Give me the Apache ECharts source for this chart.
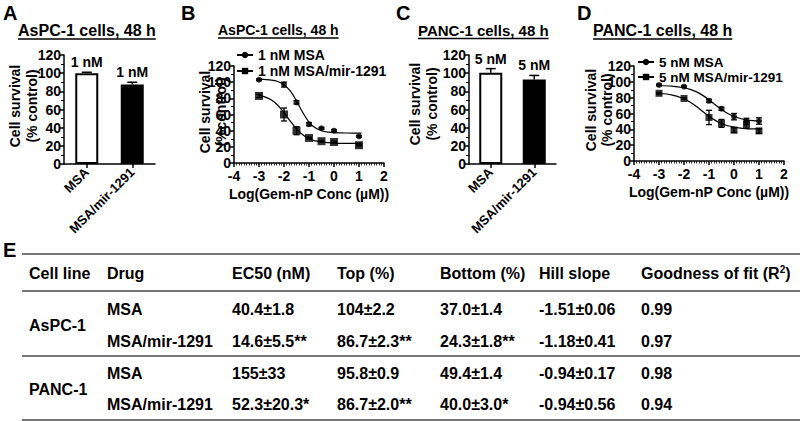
<!DOCTYPE html>
<html><head><meta charset="utf-8">
<script src="https://cdn.jsdelivr.net/npm/echarts@6/dist/echarts.min.js"></script>
<style>html,body{margin:0;padding:0;background:#fff}#c{width:800px;height:421px}</style>
</head><body><div id="c"></div>
<script>
const FONT = '"Liberation Sans", Arial, sans-serif';

// ---------- data ----------
const barCats = ['MSA', 'MSA/mir-1291'];
const aBarValues = [100, 87.5];
const aBarErrors = [1, 2.5];
const aBarLabels = ['1 nM', '1 nM'];
const cBarValues = [100.5, 93];
const cBarErrors = [4.5, 4.5];
const cBarLabels = ['5 nM', '5 nM'];

const bDoseLog = [-3, -2, -1.5, -1, -0.5, 0, 1];
const bMsaMean = [103, 97, 75, 48, 43, 40, 33];
const bMsaErr  = [1, 3, 2, 2, 1, 1, 1];
const bMirMean = [83, 60, 40, 31, 27, 26, 22];
const bMirErr  = [2, 8, 5, 1, 1, 1, 1];
const bCurveX   = [-3, -2.5, -2.25, -2, -1.75, -1.5, -1.25, -1, -0.75, -0.5, -0.25, 0, 0.5, 1.1];
const bMsaCurve = [103.8, 102.6, 100.8, 96.8, 89.1, 76.8, 62.5, 50.7, 43.5, 39.9, 38.2, 37.5, 37.1, 37.0];
const bMirCurve = [84.2, 77.9, 71.4, 62.3, 51.9, 42.2, 34.9, 30.1, 27.4, 25.9, 25.1, 24.7, 24.4, 24.3];

const dDoseLog = [-3, -2, -1, -0.5, 0, 0.5, 1];
const dMsaMean = [96, 94, 76, 66, 56, 50, 50.5];
const dMsaErr  = [1, 1, 2, 2, 4, 4, 4];
const dMirMean = [85.5, 79, 55, 47.5, 39, 46, 38];
const dMirErr  = [1, 1, 9, 5, 3, 5, 3];
const dCurveX   = [-3, -2.5, -2, -1.75, -1.5, -1.25, -1, -0.75, -0.5, -0.25, 0, 0.25, 0.5, 0.75, 1.1];
const dMsaCurve = [95.4, 94.6, 92.5, 90.4, 87.3, 82.9, 77.3, 71.1, 65.1, 60.0, 56.3, 53.7, 52.0, 50.9, 50.1];
const dMirCurve = [85.6, 83.6, 78.6, 74.3, 68.8, 62.6, 56.5, 51.3, 47.3, 44.5, 42.8, 41.6, 41.0, 40.6, 40.3];

const bLegend = ['1 nM MSA', '1 nM MSA/mir-1291'];
const dLegend = ['5 nM MSA', '5 nM MSA/mir-1291'];
const panelTitles = ['AsPC-1 cells, 48 h', 'AsPC-1 cells, 48 h', 'PANC-1 cells, 48 h', 'PANC-1 cells, 48 h'];
const panelLetters = ['A', 'B', 'C', 'D', 'E'];
const yNameLines = [['Cell survival', '(% control)'], ['Cell survival', '(%control)'], ['Cell survival', '(% control)'], ['Cell survival', '(% control)']];
const xNameCurve = 'Log(Gem-nP Conc (\u00b5M))';

const tableHeaders = ['Cell line', 'Drug', 'EC50 (nM)', 'Top (%)', 'Bottom (%)', 'Hill slope', 'Goodness of fit (R{sup|2})'];
const cellLines = ['AsPC-1', 'PANC-1'];
const drugs = ['MSA', 'MSA/mir-1291', 'MSA', 'MSA/mir-1291'];
const ec50 = ['40.4\u00b11.8', '14.6\u00b15.5**', '155\u00b133', '52.3\u00b120.3*'];
const topPct = ['104\u00b12.2', '86.7\u00b12.3**', '95.8\u00b10.9', '86.7\u00b12.0**'];
const bottomPct = ['37.0\u00b11.4', '24.3\u00b11.8**', '49.4\u00b11.4', '40.0\u00b13.0*'];
const hillSlope = ['-1.51\u00b10.06', '-1.18\u00b10.41', '-0.94\u00b10.17', '-0.94\u00b10.56'];
const goodness = ['0.99', '0.97', '0.98', '0.94'];

// ---------- helpers ----------
const BLACK = '#000';
const measure = (() => { const c = document.createElement('canvas').getContext('2d'); return (t, f) => { c.font = f; return c.measureText(t).width; }; })();
const axLine = { show: true, onZero: false, lineStyle: { color: BLACK, width: 1.5 } };
const axTick = { show: true, length: 4, lineStyle: { color: BLACK, width: 1.5 } };
const axLbl = { color: BLACK, fontWeight: 'bold', fontSize: 14, fontFamily: FONT, margin: 3, lineHeight: 12 };

function barYAxis(gi) {
  return { type: 'value', gridIndex: gi, min: 0, max: 120, interval: 20, axisLine: axLine, axisTick: axTick,
    minorTick: { show: true, splitNumber: 2, length: 3, lineStyle: { color: BLACK, width: 1 } },
    splitLine: { show: false }, axisLabel: axLbl };
}
function barXAxis(gi) {
  return { type: 'category', gridIndex: gi, data: barCats, axisLine: axLine,
    axisTick: { show: true, alignWithLabel: true, length: 4, lineStyle: { color: BLACK, width: 1.5 } },
    axisLabel: Object.assign({}, axLbl, { fontSize: 13, rotate: 45, interval: 0, margin: 6 }) };
}
function curveXAxis(gi) {
  return { type: 'value', gridIndex: gi, min: -4, max: 2, interval: 1, axisLine: axLine, axisTick: axTick,
    minorTick: { show: true, splitNumber: 10, length: 2.5, lineStyle: { color: BLACK, width: 0.8 } },
    splitLine: { show: false }, axisLabel: Object.assign({}, axLbl, { margin: 7 }),
    name: xNameCurve, nameLocation: 'middle', nameGap: 24,
    nameTextStyle: { color: BLACK, fontWeight: 'bold', fontSize: 14, fontFamily: FONT } };
}
function curveYAxis(gi) { return barYAxis(gi); }

function barErrRender(labels) {
  return function (params, api) {
    const i = api.value(0), v = api.value(1), e = api.value(2);
    const p0 = api.coord([i, v]), p1 = api.coord([i, v + e]);
    const st = { stroke: BLACK, lineWidth: 1.5 };
    return { type: 'group', children: [
      { type: 'line', shape: { x1: p0[0], y1: p0[1], x2: p1[0], y2: p1[1] }, style: st },
      { type: 'line', shape: { x1: p1[0] - 5, y1: p1[1], x2: p1[0] + 5, y2: p1[1] }, style: st },
      { type: 'text', x: p1[0], y: p1[1] - 3, style: { text: labels[params.dataIndex], align: 'center', verticalAlign: 'bottom',
        fontSize: 14, fontWeight: 'bold', fontFamily: FONT, fill: BLACK } }
    ] };
  };
}
function errRender(params, api) {
  const x = api.value(0), y = api.value(1), e = api.value(2);
  const pt = api.coord([x, y + e]), pb = api.coord([x, y - e]);
  const st = { stroke: BLACK, lineWidth: 1.3 };
  return { type: 'group', children: [
    { type: 'line', shape: { x1: pt[0], y1: pt[1], x2: pb[0], y2: pb[1] }, style: st },
    { type: 'line', shape: { x1: pt[0] - 3, y1: pt[1], x2: pt[0] + 3, y2: pt[1] }, style: st },
    { type: 'line', shape: { x1: pb[0] - 3, y1: pb[1], x2: pb[0] + 3, y2: pb[1] }, style: st }
  ] };
}
const zip = (xs, ys) => xs.map((x, i) => [x, ys[i]]);
const zip3 = (xs, ys, es) => xs.map((x, i) => [x, ys[i], es[i]]);

function curveSeries(gi, name, cx, cy, px, py, pe, sym, symSize) {
  return [
    { type: 'line', name: name, xAxisIndex: gi, yAxisIndex: gi, data: zip(cx, cy), smooth: 0.3, showSymbol: false,
      symbol: sym, symbolSize: symSize, lineStyle: { color: BLACK, width: 1.2 }, itemStyle: { color: BLACK }, silent: true, z: 2 },
    { type: 'custom', xAxisIndex: gi, yAxisIndex: gi, data: zip3(px, py, pe), renderItem: errRender, z: 3, silent: true },
    { type: 'scatter', xAxisIndex: gi, yAxisIndex: gi, data: zip(px, py), symbol: sym, symbolSize: symSize,
      itemStyle: { color: BLACK }, z: 4, silent: true }
  ];
}
function barSeries(gi, vals, errs, labels) {
  return [
    { type: 'bar', xAxisIndex: gi, yAxisIndex: gi, barWidth: 23, silent: true,
      data: vals.map((v, i) => ({ value: v, itemStyle: i === 0 ? { color: '#fff', borderColor: BLACK, borderWidth: 2 } : { color: BLACK, borderColor: BLACK, borderWidth: 2 } })) },
    { type: 'custom', xAxisIndex: gi, yAxisIndex: gi, data: vals.map((v, i) => [i, v, errs[i]]), renderItem: barErrRender(labels), z: 5, silent: true }
  ];
}

// ---------- graphics ----------
const graphics = [];
function txt(x, y, text, size, opts) {
  graphics.push(Object.assign({ type: 'text', x: x, y: y, silent: true,
    style: Object.assign({ text: text, fontSize: size, fontWeight: 'bold', fontFamily: FONT, fill: BLACK, align: 'left', verticalAlign: 'middle' }, (opts && opts.style) || {}) },
    (opts && opts.el) || {}));
}
function hline(x1, x2, y, color, w) {
  graphics.push({ type: 'line', silent: true, shape: { x1: x1, y1: y, x2: x2, y2: y }, style: { stroke: color, lineWidth: w } });
}
// panel letters
const letterPos = [[3, 13], [181, 13], [396, 13], [577, 13], [3, 250]];
panelLetters.forEach((l, i) => txt(letterPos[i][0], letterPos[i][1], l, 20));
// titles with underline
const titleSpec = [[18, 30, 16], [218, 30, 14], [418, 30, 15], [593, 30, 16]];
panelTitles.forEach((t, i) => {
  const [x, y, s] = titleSpec[i];
  txt(x, y, t, s);
  const w = measure(t, 'bold ' + s + 'px "Liberation Sans"');
  hline(x, x + w, y + s * 0.5 + 1, BLACK, 1.3);
});
// rotated y-axis names
const yNamePos = [[15, 32, 106], [205, 221, 112], [415, 432, 104], [591, 607, 110]];
yNameLines.forEach((lines, i) => {
  const [x1, x2, yc] = yNamePos[i];
  [x1, x2].forEach((x, k) => txt(0, 0, lines[k], 14, { style: { align: 'center' }, el: { x: x, y: yc, rotation: Math.PI / 2 } }));
});
// table
const colX = [29, 107, 232, 337, 440, 539, 641];
const headerY = 273, rowY = [309, 341, 373, 404], cellLineY = [325, 389];
hline(22, 800, 254, '#777', 2);
hline(22, 800, 291, '#777', 2);
hline(22, 800, 356, '#777', 2);
hline(22, 800, 420, '#777', 2);
tableHeaders.forEach((h, i) => txt(colX[i], headerY, h, 16, { style: { rich: { sup: { fontSize: 10, fontWeight: 'bold', fontFamily: FONT, verticalAlign: 'top', padding: [0, 0, 8, 0] } } } }));
cellLines.forEach((c, i) => txt(colX[0], cellLineY[i], c, 16));
[drugs, ec50, topPct, bottomPct, hillSlope, goodness].forEach((col, ci) => {
  col.forEach((v, ri) => txt(colX[ci + 1], rowY[ri], v, 16));
});

// ---------- chart ----------
const chart = echarts.init(document.getElementById('c'), null, { renderer: 'svg' });
chart.setOption({
  animation: false,
  backgroundColor: '#fff',
  grid: [
    { left: 64, top: 55, width: 91, height: 109 },
    { left: 234, top: 66, width: 150, height: 97 },
    { left: 469, top: 55, width: 87, height: 109 },
    { left: 634, top: 66, width: 150, height: 95 }
  ],
  xAxis: [barXAxis(0), curveXAxis(1), barXAxis(2), curveXAxis(3)],
  yAxis: [barYAxis(0), curveYAxis(1), barYAxis(2), curveYAxis(3)],
  legend: [
    { data: bLegend, left: 236, top: 48, orient: 'vertical', itemGap: 2, itemWidth: 16, itemHeight: 8, padding: 0, selectedMode: false,
      textStyle: { fontSize: 14, fontWeight: 'bold', fontFamily: FONT, color: BLACK, lineHeight: 13 } },
    { data: dLegend, left: 637, top: 55, orient: 'vertical', itemGap: 1, itemWidth: 16, itemHeight: 8, padding: 0, selectedMode: false,
      textStyle: { fontSize: 13.5, fontWeight: 'bold', fontFamily: FONT, color: BLACK, lineHeight: 12 } }
  ],
  series: [].concat(
    barSeries(0, aBarValues, aBarErrors, aBarLabels),
    curveSeries(1, bLegend[0], bCurveX, bMsaCurve, bDoseLog, bMsaMean, bMsaErr, 'circle', 6),
    curveSeries(1, bLegend[1], bCurveX, bMirCurve, bDoseLog, bMirMean, bMirErr, 'rect', 8),
    barSeries(2, cBarValues, cBarErrors, cBarLabels),
    curveSeries(3, dLegend[0], dCurveX, dMsaCurve, dDoseLog, dMsaMean, dMsaErr, 'circle', 6),
    curveSeries(3, dLegend[1], dCurveX, dMirCurve, dDoseLog, dMirMean, dMirErr, 'rect', 7)
  ),
  graphic: graphics
});
</script>
</body></html>
